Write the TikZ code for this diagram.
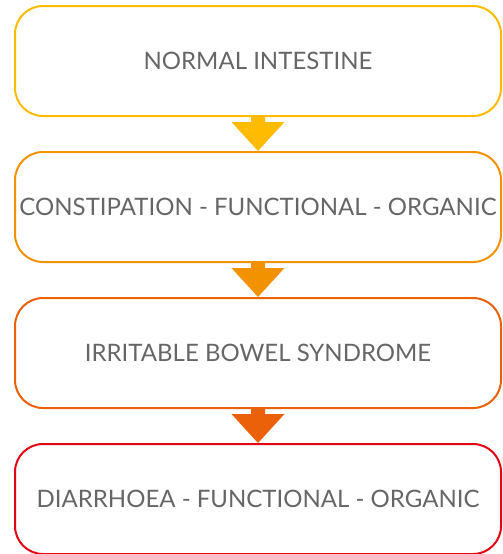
\documentclass[tikz,border=0pt]{standalone}
\usepackage{fontspec}
\setmainfont{Lato}
\usetikzlibrary{positioning}
\definecolor{stageyellow}{HTML}{FFBB00}
\definecolor{stageorange}{HTML}{F39200}
\definecolor{stagedark}{HTML}{EB6109}
\definecolor{stagered}{HTML}{E30613}
\definecolor{stagetext}{HTML}{666666}
\tikzset{
  stage/.style={draw, line width=2pt, rounded corners=28pt, minimum width=486pt,
    minimum height=110pt, text=stagetext, font=\fontsize{24}{28}\selectfont},
}
% block arrow from the bottom of one box to the top of the next
\newcommand{\downblock}[3]{
  \fill[#3] (#1.south) +(-7pt,0) -- +(7pt,0) -- +(7pt,-5pt) -- +(26.5pt,-5pt)
    -- (#2.north) -- +(-26.5pt,29pt) -- +(-7pt,29pt) -- cycle;
}
\begin{document}
\begin{tikzpicture}
  \useasboundingbox (0,0) rectangle (503pt,-554pt);
  \node[stage, draw=stageyellow] (normal) at (258pt,-61pt) {NORMAL INTESTINE};
  \node[stage, draw=stageorange, below=34pt of normal] (constipation) {CONSTIPATION - FUNCTIONAL - ORGANIC};
  \node[stage, draw=stagedark, below=34pt of constipation] (ibs) {IRRITABLE BOWEL SYNDROME};
  \node[stage, draw=stagered, below=34pt of ibs] (diarrhoea) {DIARRHOEA - FUNCTIONAL - ORGANIC};
  \downblock{normal}{constipation}{stageyellow}
  \downblock{constipation}{ibs}{stageorange}
  \downblock{ibs}{diarrhoea}{stagedark}
\end{tikzpicture}
\end{document}
